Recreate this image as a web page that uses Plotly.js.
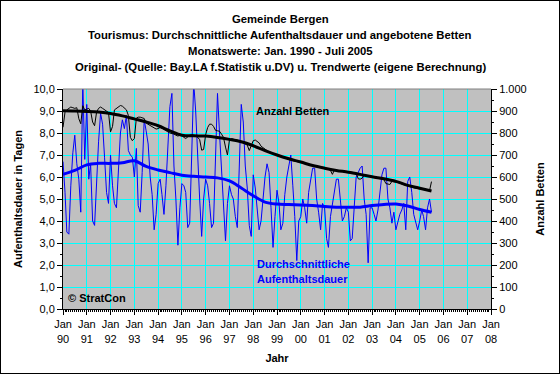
<!DOCTYPE html>
<html><head><meta charset="utf-8">
<script src="https://cdn.plot.ly/plotly-3.0.1.min.js"></script>
<style>body{margin:0;background:#fff;} #chart{width:558px;height:372px;border:1px solid #000;}</style>
</head><body><div id="chart"></div>
<script>
const startYear = 1990;
// Durchschnittliche Aufenthaltsdauer (Tage), Monatswerte Jan 1990 - Jul 2005
const dauerMonat = [
  6.7, 5.3, 3.5, 3.4, 5.6, 7.1, 7.9, 6.6, 5.9, 4.4, 10.3, 6.8,  // 1990
  9.3, 5.9, 6.6, 4.0, 3.8, 6.1, 7.6, 8.9, 8.4, 6.9, 5.3, 4.8,   // 1991
  7.0, 5.6, 4.8, 4.6, 6.4, 8.0, 8.6, 8.2, 8.8, 7.2, 7.0, 6.9,   // 1992
  6.0, 7.3, 4.7, 4.4, 6.2, 8.6, 8.1, 7.5, 6.0, 5.2, 3.6, 4.3,   // 1993
  5.7, 5.9, 5.2, 4.3, 5.6, 7.5, 9.2, 9.8, 6.5, 5.0, 2.9, 4.6,   // 1994
  5.7, 5.6, 5.3, 3.7, 3.9, 7.0, 10.3, 9.0, 6.5, 5.0, 3.3, 5.0,  // 1995
  5.9, 5.6, 4.8, 3.7, 3.9, 6.8, 9.8, 8.0, 6.3, 4.5, 3.1, 4.8,   // 1996
  5.6, 5.2, 5.0, 4.2, 3.7, 6.5, 9.3, 8.5, 6.5, 5.5, 3.8, 3.3,   // 1997
  6.1, 5.5, 4.6, 3.6, 4.0, 5.2, 6.0, 6.6, 6.2, 4.6, 2.8, 4.2,   // 1998
  5.4, 4.8, 3.6, 3.9, 5.2, 6.0, 6.6, 7.0, 5.6, 4.2, 2.2, 4.0,   // 1999
  4.2, 5.0, 4.6, 3.9, 5.3, 5.8, 6.4, 6.4, 5.0, 4.4, 3.6, 4.8,   // 2000
  4.6, 3.2, 2.8, 4.2, 4.8, 5.3, 5.9, 5.9, 4.8, 4.0, 4.2, 4.6,   // 2001
  4.4, 3.1, 3.2, 4.6, 6.0, 6.2, 6.4, 6.5, 5.0, 4.3, 2.1, 4.6,   // 2002
  4.6, 4.3, 4.0, 4.5, 5.4, 6.1, 6.4, 6.4, 5.0, 4.6, 3.9, 4.4,   // 2003
  3.6, 4.0, 4.3, 4.5, 4.8, 3.6, 5.8, 6.0, 5.3, 4.3, 4.0, 3.6,   // 2004
  4.0, 4.5, 4.2, 3.6, 4.6, 5.0, 4.4                             // 2005
];
// Angebotene Betten, Monatswerte Jan 1990 - Jul 2005
const bettenMonat = [
  826, 895, 905, 912, 918, 915, 912, 915, 865, 842, 924, 905,   // 1990
  910, 912, 900, 850, 833, 895, 912, 918, 912, 905, 900, 893,   // 1991
  805, 830, 905, 912, 918, 925, 922, 915, 905, 880, 780, 765,   // 1992
  775, 868, 872, 872, 870, 866, 845, 840, 835, 828, 822, 818,   // 1993
  820, 825, 822, 815, 810, 805, 800, 798, 795, 790, 786, 790,   // 1994
  788, 780, 775, 782, 790, 792, 790, 788, 780, 770, 722, 725,   // 1995
  792, 825, 840, 840, 830, 812, 810, 808, 795, 780, 736, 700,   // 1996
  770, 775, 772, 770, 768, 765, 760, 755, 750, 745, 720, 740,   // 1997
  765, 768, 762, 755, 740, 732, 728, 720, 715, 710, 705, 702,   // 1998
  700, 698, 692, 690, 688, 684, 680, 676, 674, 672, 670, 668,   // 1999
  668, 665, 662, 660, 658, 656, 654, 652, 650, 648, 645, 642,   // 2000
  640, 638, 635, 630, 612, 632, 630, 628, 627, 625, 624, 622,   // 2001
  622, 620, 621, 620, 618, 592, 590, 595, 608, 606, 604, 602,   // 2002
  600, 598, 596, 594, 592, 590, 588, 570, 568, 566, 580, 579,   // 2003
  578, 575, 572, 570, 565, 562, 558, 556, 553, 551, 549, 548,   // 2004
  546, 545, 543, 541, 540, 538, 579                             // 2005
];
// Trendwerte, jeweils Januar und Juli
const dauerTrend = [6.12, 6.30, 6.55, 6.62, 6.62, 6.65, 6.74, 6.48, 6.32, 6.20, 6.08, 6.03,
  6.00, 5.96, 5.82, 5.50, 5.15, 4.86, 4.77, 4.75, 4.73, 4.70, 4.66, 4.63, 4.62, 4.63,
  4.70, 4.75, 4.77, 4.68, 4.52, 4.40];
const bettenTrend = [901, 900, 898, 895, 889, 878, 864, 850, 833, 810, 790, 787,
  786, 780, 771, 760, 742, 720, 700, 683, 668, 652, 640, 630, 622, 612,
  601, 592, 580, 562, 549, 536];

function monthDate(i) {
  const y = startYear + Math.floor(i / 12);
  const m = (i % 12) + 1;
  return y + '-' + String(m).padStart(2, '0') + '-01';
}
const xMonat = dauerMonat.map((_, i) => monthDate(i));
const xTrend = dauerTrend.map((_, i) => monthDate(i * 6));

const BLUE = '#0000FF';
const traces = [
  {x: xMonat, y: dauerMonat, type: 'scatter', mode: 'lines', line: {color: BLUE, width: 1}, yaxis: 'y', hoverinfo: 'skip'},
  {x: xMonat, y: bettenMonat, type: 'scatter', mode: 'lines', line: {color: '#000', width: 1}, yaxis: 'y2', hoverinfo: 'skip'},
  {x: xTrend, y: bettenTrend, type: 'scatter', mode: 'lines', line: {color: '#000', width: 3, shape: 'spline'}, yaxis: 'y2', hoverinfo: 'skip'},
  {x: xTrend, y: dauerTrend, type: 'scatter', mode: 'lines', line: {color: BLUE, width: 3, shape: 'spline'}, yaxis: 'y', hoverinfo: 'skip'}
];

const W = 558, H = 372, L = 62, R = 68, T = 88, B = 64;
const pw = W - L - R, ph = H - T - B;
function px(xImg) { return (xImg - 1 - L) / pw; }
function py(yImg) { return (H - B - (yImg - 1)) / ph; }

const F = 'Arial, "Liberation Sans", sans-serif';
function ann(text, x, y, opts) {
  return Object.assign({text: text, xref: 'paper', yref: 'paper', x: px(x), y: py(y),
    xanchor: 'center', yanchor: 'middle', showarrow: false,
    font: {family: F, size: 11, color: '#000'}}, opts || {});
}
const titleFont = {font: {family: F, size: 11.3, color: '#000'}};

const layout = {
  width: W, height: H,
  margin: {l: L, r: R, t: T, b: B, pad: 0},
  paper_bgcolor: '#FFFFFF', plot_bgcolor: '#C0C0C0',
  separators: ',.',
  showlegend: false,
  hovermode: false,
  dragmode: false,
  font: {family: F, size: 11, color: '#000'},
  xaxis: {
    type: 'date', range: ['1990-01-01', '2008-01-01'], dtick: 'M12', tick0: '1990-01-01',
    tickformat: '%b<br>%y', showgrid: true, gridcolor: '#00FFFF', gridwidth: 1,
    showline: true, linecolor: '#000', linewidth: 1, ticks: 'outside', ticklen: 5, tickcolor: '#000',
    minor: {dtick: 'M1', ticks: 'outside', ticklen: 2, tickcolor: '#000', showgrid: false},
    zeroline: false, fixedrange: true,
    title: {text: '<b>Jahr</b>', font: {family: F, size: 11}, standoff: 10}
  },
  yaxis: {
    range: [0, 10], dtick: 1, tickformat: '.1f', showgrid: true, gridcolor: '#00FFFF', gridwidth: 1,
    showline: true, linecolor: '#000', linewidth: 1, ticks: 'outside', ticklen: 5, tickcolor: '#000',
    minor: {dtick: 0.5, ticks: 'outside', ticklen: 2, tickcolor: '#000', showgrid: false},
    zeroline: false, fixedrange: true,
    title: {text: '<b>Aufenthaltsdauer in Tagen</b>', font: {family: F, size: 11}, standoff: 8}
  },
  yaxis2: {
    range: [0, 1000], dtick: 100, tickformat: ',d', overlaying: 'y', side: 'right',
    showgrid: false, showline: true, linecolor: '#000', linewidth: 1, ticks: 'outside', ticklen: 5, tickcolor: '#000',
    minor: {dtick: 50, ticks: 'outside', ticklen: 2, tickcolor: '#000', showgrid: false},
    zeroline: false, fixedrange: true,
    title: {text: '<b>Anzahl Betten</b>', font: {family: F, size: 11}, standoff: 10}
  },
  shapes: [
    {type: 'line', xref: 'paper', yref: 'paper', x0: 0, x1: 1, y0: 1, y1: 1, line: {color: '#808080', width: 1}}
  ],
  annotations: [
    ann('<b>Gemeinde Bergen</b>', 280, 19, titleFont),
    ann('<b>Tourismus: Durchschnittliche Aufenthaltsdauer und angebotene Betten</b>', 280, 35, titleFont),
    ann('<b>Monatswerte: Jan. 1990 - Juli 2005</b>', 280, 51, titleFont),
    ann('<b>Original- (Quelle: Bay.LA f.Statistik u.DV) u. Trendwerte (eigene Berechnung)</b>', 280, 67, titleFont),
    ann('<b>Anzahl Betten</b>', 293, 111),
    ann('<b>Durchschnittliche</b>', 255, 264, {xanchor: 'left', font: {family: F, size: 11, color: BLUE}}),
    ann('<b>Aufenthaltsdauer</b>', 255, 279, {xanchor: 'left', font: {family: F, size: 11, color: BLUE}}),
    ann('<b>© StratCon</b>', 66, 298, {xanchor: 'left'})
  ]
};

Plotly.newPlot('chart', traces, layout, {displayModeBar: false, responsive: false});
</script>
</body></html>
